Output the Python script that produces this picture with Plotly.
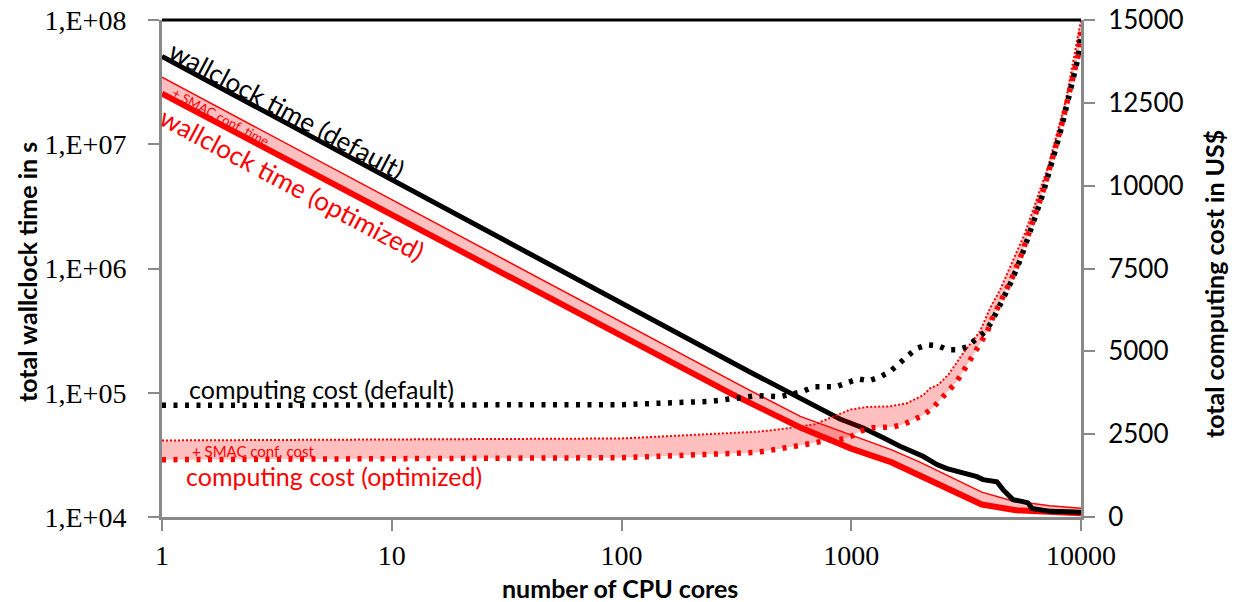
import plotly.graph_objects as go

# ---------------- data ----------------
# total wallclock time in s (left, log axis)
cores_wall_default = [1, 10, 100, 362, 893, 1128, 1379, 1630, 2052, 2361, 2612, 3065, 3524,
                      3745, 4305, 4576, 5058, 5594, 5876, 6120, 7330, 10000]
wall_default = [5.1e7, 5.18e6, 5.27e5, 1.47e5, 6.15e4, 5.21e4, 4.34e4, 3.71e4, 3.08e4, 2.64e4,
                2.45e4, 2.28e4, 2.11e4, 2.0e4, 1.92e4, 1.66e4, 1.38e4, 1.33e4, 1.30e4, 1.17e4,
                1.11e4, 1.09e4]

cores_wall_opt = [1, 10, 100, 300, 600, 1000, 1500, 2000, 2700, 3700, 5200, 7300, 10000]
wall_opt = [2.56e7, 2.71e6, 2.87e5, 9.84e4, 5.25e4, 3.55e4, 2.75e4, 2.14e4, 1.62e4, 1.26e4,
            1.135e4, 1.10e4, 1.07e4]

cores_wall_smac = [1, 10, 100, 362, 600, 1000, 1500, 2000, 2700, 3700, 5000, 7300, 10000]
wall_smac = [3.46e7, 3.58e6, 3.71e5, 1.045e5, 6.46e4, 4.57e4, 3.47e4, 2.75e4, 2.09e4, 1.585e4,
             1.35e4, 1.23e4, 1.175e4]

# total computing cost in US$ (right, linear axis)
cores_cost_default = [1, 10, 100, 243, 389, 490, 611, 682, 858, 959, 1070, 1194, 1334, 1475,
                      1615, 1767, 1915, 2137, 2387, 2612, 2886, 3181, 3481, 3822, 4087, 4545,
                      4994, 5465, 5921, 6370, 6854, 7330, 7785, 8268, 8754, 9231, 9734, 10000]
cost_default = [3370, 3370, 3390, 3490, 3660, 3630, 3780, 3930, 3930, 4050, 4170, 4110, 4230,
                4390, 4630, 4840, 5080, 5200, 5170, 5050, 5050, 5130, 5380, 5590, 5890, 6510,
                7130, 7800, 8450, 9130, 9800, 10460, 11150, 11820, 12510, 13190, 13890, 14600]

cores_cost_opt = [1, 10, 100, 200, 388, 490, 611, 682, 805, 907, 1011, 1081, 1207, 1357, 1515,
                  1680, 1876, 2053, 2262, 2451, 2673, 2858, 3074, 3265, 3467, 3681, 3910, 4087,
                  4545, 4994, 5465, 5921, 6370, 6854, 7330, 7785, 8268, 8754, 9231, 9734, 10000]
cost_opt = [1730, 1740, 1790, 1870, 1950, 2060, 2150, 2230, 2330, 2350, 2450, 2570, 2690, 2720,
            2720, 2790, 2940, 3070, 3290, 3560, 3790, 4060, 4400, 4680, 4970, 5250, 5590, 5950,
            6570, 7190, 7860, 8510, 9190, 9860, 10520, 11210, 11880, 12570, 13250, 13950, 14650]

cores_cost_smac = [1, 10, 54, 100, 401, 505, 695, 988, 1167, 1475, 1742, 1862, 2059, 2200,
                   2400, 2650, 3074, 3631, 4018, 4440, 5706, 7206, 8604, 10000]
cost_smac = [2310, 2330, 2355, 2370, 2580, 2660, 2800, 3240, 3320, 3340, 3430, 3540, 3680, 3880,
             4000, 4300, 4950, 5600, 6300, 6850, 8570, 10590, 12600, 15000]

x_tickvals = [1, 10, 100, 1000, 10000]
x_ticktext = ["1", "10", "100", "1000", "10000"]
y_tickvals = [1e4, 1e5, 1e6, 1e7, 1e8]
y_ticktext = ["1,E+04", "1,E+05", "1,E+06", "1,E+07", "1,E+08"]
y2_tickvals = [0, 2500, 5000, 7500, 10000, 12500, 15000]
y2_ticktext = ["0", "2500", "5000", "7500", "10000", "12500", "15000"]

# ---------------- figure ----------------
# the page body margin is removed (post_script), so the figure fills the window
W, H = 1234, 602
ML, MT = 162, 20
PW, PH = 919, 497
MR, MB = W - ML - PW, H - MT - PH


def px(x):
    """window pixel x -> paper coordinate"""
    return (x - ML) / PW


def py(y):
    """window pixel y -> paper coordinate"""
    return (MT + PH - y) / PH


RED = "#FF0000"
PINK = "rgba(255,0,0,0.25)"
GRAY = "#898989"
SANS = "Lato"
SERIF = "Liberation Serif"
DOT = "4px,7.5px"

fig = go.Figure()
fig.add_trace(go.Scatter(x=cores_wall_opt, y=wall_opt, mode="lines",
                         line=dict(color=RED, width=6)))
fig.add_trace(go.Scatter(x=cores_wall_smac, y=wall_smac, mode="lines",
                         line=dict(color=RED, width=1.5), fill="tonexty", fillcolor=PINK))
fig.add_trace(go.Scatter(x=cores_wall_default, y=wall_default, mode="lines",
                         line=dict(color="black", width=5)))
fig.add_trace(go.Scatter(x=cores_cost_opt, y=cost_opt, yaxis="y2", mode="lines",
                         line=dict(color=RED, width=5.5, dash=DOT)))
fig.add_trace(go.Scatter(x=cores_cost_smac, y=cost_smac, yaxis="y2", mode="lines",
                         line=dict(color=RED, width=2, dash="2px,2px"),
                         fill="tonexty", fillcolor=PINK))
fig.add_trace(go.Scatter(x=cores_cost_default, y=cost_default, yaxis="y2", mode="lines",
                         line=dict(color="black", width=5.5, dash=DOT)))

axis_common = dict(showline=True, linecolor=GRAY, linewidth=3, ticks="outside", ticklen=11,
                   tickwidth=2, tickcolor=GRAY, showgrid=False, zeroline=False,
                   automargin=False, ticklabeloverflow="allow")

fig.update_layout(
    width=W, height=H,
    margin=dict(l=ML, r=MR, t=MT, b=MB, autoexpand=False),
    paper_bgcolor="white", plot_bgcolor="white",
    showlegend=False,
    xaxis=dict(type="log", range=[0, 4], tickvals=x_tickvals, ticktext=x_ticktext,
               tickfont=dict(family=SERIF, size=28, color="black"), ticklabelstandoff=0,
               **axis_common),
    yaxis=dict(type="log", range=[4, 8], tickvals=y_tickvals, ticktext=y_ticktext,
               tickfont=dict(family=SERIF, size=28, color="black"), ticklabelstandoff=16,
               **axis_common),
    yaxis2=dict(overlaying="y", side="right", range=[0, 15000], tickvals=y2_tickvals,
                ticktext=y2_ticktext,
                tickfont=dict(family=SANS, size=26, color="black"), ticklabelstandoff=8,
                **axis_common),
)

fig.add_shape(type="line", xref="paper", yref="paper", x0=0, x1=1, y0=1, y1=1,
              line=dict(color="black", width=3))

ann = [
    ("<b>number of CPU cores</b>", 620, 588, 0, "black", 25),
    ("<b>total wallclock time in s</b>", 27, 272, -90, "black", 25),
    ("<b>total computing cost in US$</b>", 1214, 284, -90, "black", 25),
    ("wallclock time (default)", 287, 110, 28, "black", 26),
    ("wallclock time (optimized)", 292, 184, 28, RED, 26),
    ("+ SMAC conf. time", 221, 117, 28, RED, 13),
    ("computing cost (default)", 321, 389, 0, "black", 25),
    ("+ SMAC conf. cost", 253, 451, 0, RED, 15),
    ("computing cost (optimized)", 334, 476, 0, RED, 25),
]
for text, x, y, ang, col, sz in ann:
    fig.add_annotation(text=text, xref="paper", yref="paper", x=px(x), y=py(y),
                       xanchor="center", yanchor="middle", showarrow=False, textangle=ang,
                       font=dict(family=SANS, size=sz, color=col))

fig.write_html("out.html",
               config={"displayModeBar": False},
               post_script="document.body.style.margin='0';"
                           "document.body.style.overflow='hidden';")
